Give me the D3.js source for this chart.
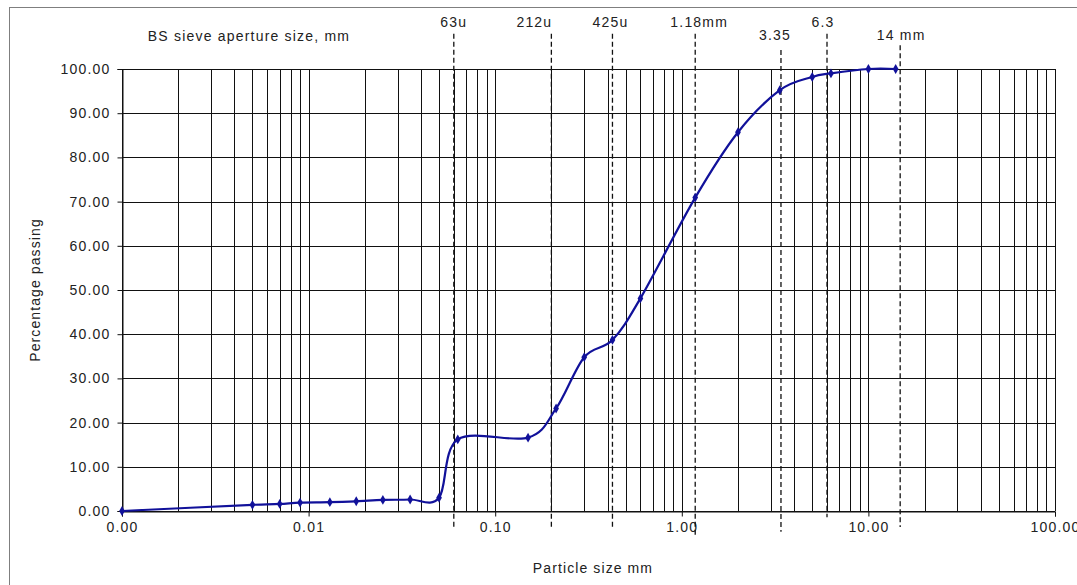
<!DOCTYPE html>
<html>
<head>
<meta charset="utf-8">
<script src="https://cdn.jsdelivr.net/npm/d3@7"></script>
<style>
  body { margin: 0; background: #fff; }
  text { font-family: "Liberation Sans", Arial, sans-serif; fill: #222; }
</style>
</head>
<body>
<div id="container"></div>
<script>
// Grading curve: particle size (mm) vs percentage passing
const sizes   = [0.001, 0.005, 0.007, 0.009, 0.013, 0.018, 0.025, 0.035, 0.05, 0.063, 0.15, 0.212, 0.3, 0.425, 0.6, 1.18, 2.0, 3.35, 5.0, 6.3, 10, 14];
const passing = [0.0, 1.4, 1.6, 1.9, 2.0, 2.2, 2.5, 2.6, 3.0, 16.2, 16.6, 23.2, 34.8, 38.7, 48.1, 70.9, 85.7, 95.2, 98.2, 99.0, 100, 100];

// BS sieve marker lines (x position, label, top and bottom extent in % units)
const sieveSizes  = [0.06, 0.2, 0.425, 1.18, 3.4, 6.0, 14.8];
const sieveLabels = ["63u", "212u", "425u", "1.18mm", "3.35", "6.3", "14 mm"];
const sieveTop    = [108, 108, 108, 108, 104.3, 108, 105.4];
const sieveBottom = [-3.9, -3.6, -3.6, -5.9, -4.7, -1.4, -3.6];

const yTicks = [0, 10, 20, 30, 40, 50, 60, 70, 80, 90, 100];
const xTicks = [0.001, 0.01, 0.1, 1, 10, 100];

const width = 1077;
const height = 585;
const margin = { top: 69, right: 22, bottom: 74, left: 122 };

const svg = d3.select("#container").append("svg")
    .attr("width", width)
    .attr("height", height)
    .style("font-size", "14px");

// outer chart frame (runs off the page on right and bottom)
svg.append("rect")
    .attr("x", 9.5).attr("y", 7.5)
    .attr("width", 1200).attr("height", 700)
    .attr("fill", "none")
    .attr("stroke", "#7f7f7f");

const x = d3.scaleLog()
    .domain([0.001, 100])
    .range([margin.left, width - margin.right]);

const y = d3.scaleLinear()
    .domain([0, 100])
    .range([height - margin.bottom, margin.top]);

// gridlines
const grid = svg.append("g").attr("stroke", "#111").attr("stroke-width", 1);
grid.selectAll("line.v")
    .data(x.ticks())
    .join("line")
    .attr("class", "v")
    .attr("x1", d => Math.round(x(d)) + 0.5)
    .attr("x2", d => Math.round(x(d)) + 0.5)
    .attr("y1", y(100))
    .attr("y2", y(0));
grid.selectAll("line.h")
    .data(yTicks)
    .join("line")
    .attr("class", "h")
    .attr("x1", x(0.001))
    .attr("x2", x(100))
    .attr("y1", d => Math.round(y(d)) + 0.5)
    .attr("y2", d => Math.round(y(d)) + 0.5);

// axes
const yAxis = svg.append("g")
    .attr("transform", `translate(${Math.round(x(0.001)) + 0.5},0)`)
    .call(d3.axisLeft(y).tickValues(yTicks).tickFormat(d3.format(".2f")).tickSize(5).tickPadding(7));

const xAxis = svg.append("g")
    .attr("transform", `translate(0,${Math.round(y(0)) + 0.5})`)
    .call(d3.axisBottom(x).tickValues(xTicks).tickFormat(d3.format(".2f")).tickSize(5).tickPadding(6));

[yAxis, xAxis].forEach(g => {
    g.select(".domain").attr("stroke", "#111");
    g.selectAll(".tick line").attr("stroke", "#111");
    g.selectAll("text")
        .style("font-family", '"Liberation Sans", Arial, sans-serif')
        .style("font-size", "14px")
        .style("letter-spacing", "1.2px")
        .attr("fill", "#222");
});

// sieve dashed lines
svg.append("g")
    .selectAll("line")
    .data(sieveSizes)
    .join("line")
    .attr("x1", d => x(d))
    .attr("x2", d => x(d))
    .attr("y1", (d, i) => y(sieveTop[i]))
    .attr("y2", (d, i) => y(sieveBottom[i]))
    .attr("stroke", "#111")
    .attr("stroke-width", 1.3)
    .attr("stroke-dasharray", "5,3");

// sieve labels
const labelDx = [0, -17, -2, 4, -6, -4, 1];
const labelRow = [0, 0, 0, 0, 1, 0, 1];
svg.append("g")
    .selectAll("text")
    .data(sieveLabels)
    .join("text")
    .attr("x", (d, i) => x(sieveSizes[i]) + labelDx[i])
    .attr("y", (d, i) => labelRow[i] ? 40 : 27)
    .attr("text-anchor", "middle")
    .style("letter-spacing", "1.2px")
    .text(d => d);

svg.append("text")
    .attr("x", 249)
    .attr("y", 41)
    .attr("text-anchor", "middle")
    .style("letter-spacing", "1.2px")
    .text("BS sieve aperture size, mm");

// axis titles
svg.append("text")
    .attr("transform", "translate(40,290) rotate(-90)")
    .attr("text-anchor", "middle")
    .style("letter-spacing", "1.1px")
    .text("Percentage passing");

svg.append("text")
    .attr("x", 593)
    .attr("y", 573)
    .attr("text-anchor", "middle")
    .style("letter-spacing", "1.1px")
    .text("Particle size mm");

// grading curve
const points = sizes.map((s, i) => [s, passing[i]]);
const line = d3.line()
    .x(d => x(d[0]))
    .y(d => y(d[1]))
    .curve(d3.curveCatmullRom.alpha(0));

svg.append("path")
    .datum(points)
    .attr("fill", "none")
    .attr("stroke", "#11119a")
    .attr("stroke-width", 2.2)
    .attr("d", line);

svg.append("g")
    .selectAll("path")
    .data(points)
    .join("path")
    .attr("transform", d => `translate(${x(d[0])},${y(d[1])})`)
    .attr("d", d3.symbol(d3.symbolDiamond, 28))
    .attr("fill", "#11119a");
</script>
</body>
</html>
